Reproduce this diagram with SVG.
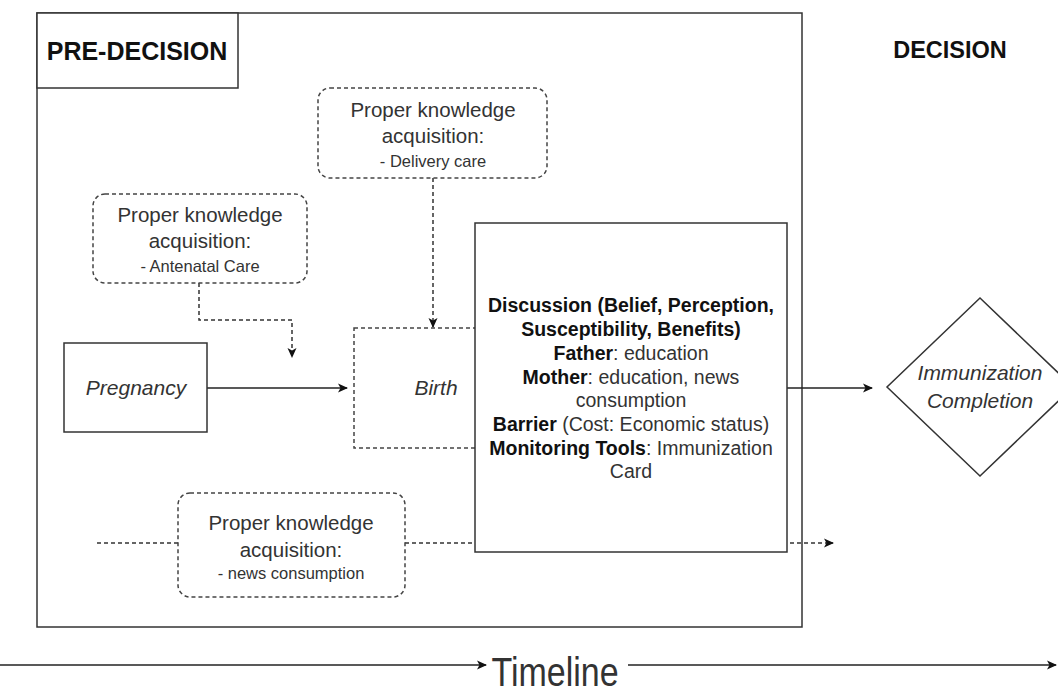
<svg xmlns="http://www.w3.org/2000/svg" width="1058" height="699" viewBox="0 0 1058 699">
<defs>
<marker id="arr" markerWidth="10" markerHeight="10" refX="9" refY="5" orient="auto" markerUnits="userSpaceOnUse">
<path d="M0,0.5 L10,5 L0,9.5 L2.5,5 Z" fill="#111" stroke="none"/>
</marker>
</defs>
<style>
text{font-family:"Liberation Sans",Arial,sans-serif;fill:#333;text-anchor:middle}
.b{font-weight:bold;fill:#111}
.box{fill:#fff;stroke:#333;stroke-width:1.5}
.frame{fill:none;stroke:#333;stroke-width:1.5}
.dbox{fill:#fff;stroke:#444;stroke-width:1.5;stroke-dasharray:4,3}
.solid{fill:none;stroke:#222;stroke-width:1.5}
.dash{fill:none;stroke:#333;stroke-width:1.5;stroke-dasharray:4,3}
.pk{font-size:20.5px}
.sub{font-size:16.5px}
.it{font-style:italic;font-size:21px}
.disc{font-size:19.5px}
</style>
<rect width="1058" height="699" fill="#fff"/>

<g id="outer">
<rect x="37" y="13" width="765" height="614" class="frame"/>
</g>
<g id="predecision">
<rect x="37" y="13" width="201" height="75" class="box"/>
<text x="137" y="60" class="b" font-size="25">PRE-DECISION</text>
</g>
<g id="decision">
<text x="950" y="58" class="b" font-size="23.5">DECISION</text>
</g>

<g id="connectors">
<path d="M97,543 H833" class="dash" marker-end="url(#arr)"/>
<path d="M199,283 V320 H292 V357" class="dash" marker-end="url(#arr)"/>
<path d="M433,178 V327" class="dash" marker-end="url(#arr)"/>
<path d="M207,388 H347" class="solid" marker-end="url(#arr)"/>
<path d="M787,388 H872" class="solid" marker-end="url(#arr)"/>
<path d="M0,665 H486" class="solid" marker-end="url(#arr)"/>
<path d="M628,665 H1056" class="solid" marker-end="url(#arr)"/>
</g>

<g id="birth">
<rect x="354" y="328" width="200" height="120" class="dbox"/>
<text x="436" y="395" class="it">Birth</text>
</g>

<g id="delivery">
<rect x="318" y="88" width="229" height="90" rx="12" class="dbox"/>
<text x="433" y="117" class="pk">Proper knowledge</text>
<text x="433" y="143" class="pk">acquisition:</text>
<text x="433" y="167" class="sub">- Delivery care</text>
</g>

<g id="antenatal">
<rect x="93" y="194" width="214" height="89" rx="12" class="dbox"/>
<text x="200" y="222" class="pk">Proper knowledge</text>
<text x="200" y="248" class="pk">acquisition:</text>
<text x="200" y="272" class="sub">- Antenatal Care</text>
</g>

<g id="news">
<rect x="178" y="493" width="227" height="104" rx="12" class="dbox"/>
<text x="291" y="530" class="pk">Proper knowledge</text>
<text x="291" y="557" class="pk">acquisition:</text>
<text x="291" y="579" class="sub">- news consumption</text>
</g>

<g id="pregnancy">
<rect x="64" y="343" width="143" height="89" class="box"/>
<text x="136" y="395" class="it">Pregnancy</text>
</g>

<g id="discussion">
<rect x="475" y="223" width="312" height="329" class="box"/>
<text x="631" y="312" class="disc b">Discussion (Belief, Perception,</text>
<text x="631" y="336" class="disc b">Susceptibility, Benefits)</text>
<text x="631" y="360" class="disc"><tspan class="b">Father</tspan>: education</text>
<text x="631" y="384" class="disc"><tspan class="b">Mother</tspan>: education, news</text>
<text x="631" y="407" class="disc">consumption</text>
<text x="631" y="431" class="disc"><tspan class="b">Barrier</tspan> (Cost: Economic status)</text>
<text x="631" y="455" class="disc"><tspan class="b">Monitoring Tools</tspan>: Immunization</text>
<text x="631" y="478" class="disc">Card</text>
</g>

<g id="completion">
<polygon points="980,298 1073,387 980,476 887,387" class="box"/>
<text x="980" y="380" class="it">Immunization</text>
<text x="980" y="408" class="it">Completion</text>
</g>

<g id="timeline">
<text x="0" y="0" font-size="34" transform="translate(555,686) scale(1,1.2)">Timeline</text>
</g>
</svg>
